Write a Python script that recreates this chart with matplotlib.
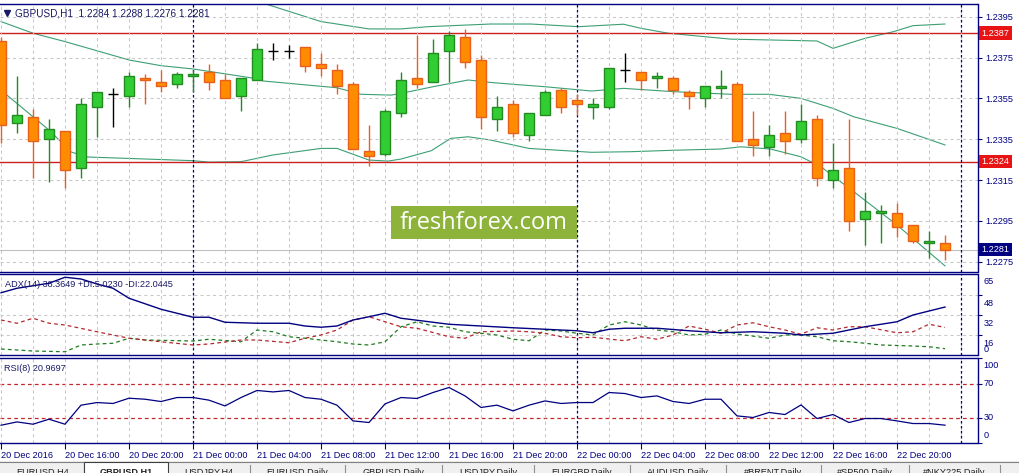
import matplotlib
matplotlib.use("Agg")
import numpy as np
import matplotlib.pyplot as plt
from matplotlib.patches import Rectangle
from matplotlib.transforms import blended_transform_factory, offset_copy

plt.rcParams['font.family'] = ['Liberation Sans', 'DejaVu Sans']

# ---- data (GBPUSD, H1, bar 0 = 20 Dec 2016 12:00) ----
opens = [1.2383, 1.2343, 1.2346, 1.2335, 1.2339, 1.2321, 1.2351, 1.2357, 1.2356, 1.2365,
         1.2363, 1.2362, 1.2366, 1.2368, 1.2364, 1.2356, 1.2364, 1.2378, 1.2378, 1.2380,
         1.2372, 1.2369, 1.2362, 1.2329, 1.2328, 1.2348, 1.2365, 1.2363, 1.2378, 1.2385,
         1.2374, 1.2345, 1.2352, 1.2337, 1.2347, 1.2359, 1.2354, 1.2351, 1.2351, 1.2369,
         1.2368, 1.2365, 1.2365, 1.2358, 1.2355, 1.2360, 1.2362, 1.2335, 1.2331, 1.2338,
         1.2335, 1.2345, 1.2315, 1.2321, 1.2296, 1.2299, 1.2299, 1.2293, 1.2284, 1.2284]
highs = [1.2385, 1.2366, 1.2350, 1.2345, 1.2339, 1.2355, 1.2358, 1.2360, 1.2368, 1.2367,
         1.2369, 1.2368, 1.2369, 1.2372, 1.2367, 1.2365, 1.2382, 1.2382, 1.2381, 1.2380,
         1.2377, 1.2372, 1.2363, 1.2342, 1.2350, 1.2368, 1.2386, 1.2384, 1.2388, 1.2389,
         1.2376, 1.2356, 1.2354, 1.2348, 1.2359, 1.2360, 1.2357, 1.2355, 1.2370, 1.2377,
         1.2368, 1.2368, 1.2366, 1.2359, 1.2361, 1.2369, 1.2363, 1.2349, 1.2342, 1.2349,
         1.2352, 1.2347, 1.2333, 1.2345, 1.2309, 1.2303, 1.2304, 1.2293, 1.2290, 1.2288]
lows = [1.2333, 1.2338, 1.2316, 1.2314, 1.2311, 1.2316, 1.2336, 1.2341, 1.2351, 1.2352,
        1.2358, 1.2360, 1.2358, 1.2359, 1.2355, 1.2349, 1.2364, 1.2374, 1.2375, 1.2368,
        1.2366, 1.2357, 1.2330, 1.2322, 1.2327, 1.2346, 1.2360, 1.2363, 1.2363, 1.2370,
        1.2340, 1.2339, 1.2336, 1.2334, 1.2347, 1.2348, 1.2347, 1.2345, 1.2350, 1.2363,
        1.2359, 1.2360, 1.2357, 1.2350, 1.2351, 1.2355, 1.2334, 1.2327, 1.2327, 1.2328,
        1.2333, 1.2312, 1.2311, 1.2290, 1.2283, 1.2284, 1.2287, 1.2284, 1.2277, 1.2276]
closes = [1.2342, 1.2347, 1.2334, 1.2340, 1.2320, 1.2352, 1.2358, 1.2357, 1.2366, 1.2364,
          1.2361, 1.2367, 1.2367, 1.2363, 1.2355, 1.2365, 1.2379, 1.2378, 1.2378, 1.2371,
          1.2370, 1.2361, 1.2330, 1.2327, 1.2349, 1.2364, 1.2362, 1.2377, 1.2386, 1.2373,
          1.2346, 1.2351, 1.2338, 1.2348, 1.2358, 1.2351, 1.2352, 1.2352, 1.2370, 1.2369,
          1.2364, 1.2366, 1.2359, 1.2356, 1.2361, 1.2361, 1.2334, 1.2332, 1.2337, 1.2334,
          1.2344, 1.2316, 1.2320, 1.2295, 1.2300, 1.2300, 1.2292, 1.2285, 1.2285, 1.2281]

# Bollinger bands (bar position, price)
bb_up_x = [13, 16.75, 20, 23, 25, 26.7, 30.6, 33.1, 36.1, 38.9, 40, 41.7, 45.6, 51, 52, 54, 55.8, 57, 59]
bb_up_y = [1.2410, 1.24007, 1.23926, 1.2389, 1.2389, 1.23901, 1.23914, 1.23914, 1.23901, 1.23913,
           1.23893, 1.23869, 1.2384, 1.23831, 1.23795, 1.23844, 1.23877, 1.23906, 1.23914]
bb_mid_x = [0, 2, 4, 8, 10, 12, 15.6, 16.4, 21, 22.5, 24.4, 25.4, 27, 29.2, 30.6, 32, 34, 36.9,
            38.9, 42, 45.6, 48, 50, 52, 53.3, 56, 59]
bb_mid_y = [1.23926, 1.23869, 1.23828, 1.23738, 1.2371, 1.23694, 1.23651, 1.23635, 1.23602, 1.2357,
            1.23566, 1.23581, 1.23607, 1.2364, 1.23628, 1.23619, 1.23607, 1.23586, 1.23599, 1.23583,
            1.2357, 1.2357, 1.2355, 1.23501, 1.2346, 1.23403, 1.23322]
bb_lo_x = [0, 3, 4.4, 5.4, 12, 13, 15, 17, 20, 21, 23, 24.2, 25, 26.9, 28.1, 29.2, 30.6, 32, 33,
           36.9, 39.4, 42, 45, 46.25, 48.1, 50, 51.25, 53.3, 56, 59]
bb_lo_y = [1.2359, 1.23395, 1.23287, 1.23263, 1.23245, 1.23238, 1.2324, 1.23273, 1.23305, 1.23305,
           1.23248, 1.23243, 1.23253, 1.23294, 1.23354, 1.23362, 1.23346, 1.23322, 1.23305, 1.23286,
           1.23289, 1.23296, 1.23302, 1.23313, 1.23302, 1.23264, 1.23215, 1.23093, 1.2293, 1.2273]

resistance = 1.2387
support = 1.2324
price_ticks = [1.2395, 1.2375, 1.2355, 1.2335, 1.2315, 1.2295, 1.2275]

# ADX(14) main line, +DI, -DI
adx_x = [0, 1, 3, 4, 5, 6, 7, 8, 10, 12, 13, 14, 16, 18, 19, 20, 21, 22, 23, 24, 25, 28, 30, 32,
         34, 36, 37, 38, 39, 41, 43, 45, 47, 49, 50, 52, 54, 56, 57, 59]
adx_y = [49.8, 53.4, 57.4, 62.2, 60.8, 56.8, 53.4, 45.4, 36.6, 30.2, 30.2, 26.2, 25.4, 25.4, 23.2,
         22.2, 23.2, 28.0, 30.6, 33.4, 29.4, 24.6, 23.2, 21.8, 20.6, 19.4, 17.8, 20.6, 21.4, 21.4,
         19.4, 17.8, 18.6, 17.4, 16.0, 17.4, 22.6, 26.6, 32.0, 38.3649]
pdi_x = [0, 1, 2, 4, 5, 6, 7, 8, 9, 12, 13, 15, 16, 17, 18, 19, 21, 22, 23, 24, 25, 26, 27, 28,
         29, 30, 31, 32, 33, 34, 35, 36, 37, 38, 39, 40, 41, 42, 43, 44, 45, 46, 48, 49, 50, 51,
         52, 53, 54, 55, 57, 58, 59]
pdi_y = [4.8, 4.0, 3.2, 2.6, 8.0, 8.8, 9.4, 13.4, 12.0, 11.2, 12.6, 10.6, 20.0, 18.6, 14.6, 13.4,
         10.6, 8.8, 8.0, 10.6, 22.6, 26.6, 23.2, 22.2, 18.6, 17.4, 16.0, 12.6, 11.4, 20.0, 19.2,
         17.4, 16.0, 24.0, 26.6, 24.0, 20.0, 18.6, 16.0, 16.6, 20.0, 16.8, 13.4, 16.0, 16.0, 14.6,
         11.4, 10.6, 9.4, 8.0, 7.2, 6.6, 5.0230]
mdi_x = [0, 1, 2, 3, 4, 6, 8, 10, 12, 13, 15, 16, 18, 19, 20, 21, 22, 23, 24, 25, 26, 28, 29, 30,
         32, 33, 34, 35, 36, 37, 39, 40, 41, 42, 43, 44, 45, 46, 47, 48, 49, 50, 51, 52, 53, 54,
         56, 57, 58, 59]
mdi_y = [28.0, 25.4, 29.4, 25.4, 24.0, 18.6, 13.4, 10.6, 8.0, 8.8, 12.0, 12.0, 9.8, 13.4, 16.0,
         20.0, 28.0, 30.6, 26.6, 22.6, 21.4, 14.6, 13.4, 18.6, 19.2, 18.6, 17.4, 14.6, 13.8, 14.2,
         11.4, 14.6, 12.6, 16.0, 23.2, 20.6, 17.4, 24.0, 25.8, 22.6, 20.0, 16.6, 21.8, 20.0, 22.6,
         22.6, 17.8, 18.6, 24.6, 22.0445]

# RSI(8), one value per bar
rsi = [20.9, 24.8, 22.1, 28.0, 22.1, 44.5, 47.6, 46.5, 52.7, 51.5, 48.8, 53.5, 53.5, 50.4, 43.6,
       53.5, 61.8, 60.1, 61.8, 53.5, 51.5, 44.5, 26.0, 24.1, 46.0, 53.5, 52.4, 59.4, 65.3, 55.4,
       41.8, 44.5, 37.8, 44.5, 49.5, 46.5, 47.6, 47.6, 59.4, 58.2, 53.5, 55.4, 48.8, 46.5, 51.5,
       51.5, 31.9, 30.0, 35.9, 33.5, 44.8, 28.8, 33.5, 24.1, 28.8, 28.8, 26.0, 22.9, 22.9, 20.9697]
rsi_levels = [70, 30]

time_labels = ['20 Dec 2016', '20 Dec 16:00', '20 Dec 20:00', '21 Dec 00:00', '21 Dec 04:00',
               '21 Dec 08:00', '21 Dec 12:00', '21 Dec 16:00', '21 Dec 20:00', '22 Dec 00:00',
               '22 Dec 04:00', '22 Dec 08:00', '22 Dec 12:00', '22 Dec 16:00', '22 Dec 20:00']
day_starts = [12, 36, 60]
tabs = ['EURUSD,H4', 'GBPUSD,H1', 'USDJPY,H4', 'EURUSD,Daily', 'GBPUSD,Daily', 'USDJPY,Daily',
        'EURGBP,Daily', 'AUDUSD,Daily', '#BRENT,Daily', '#SP500,Daily', '#NKY225,Daily']

# ---- styling ----
NAVY = '#000080'
TXT = '#1a1a66'
GRID = '#c8c8c8'
BULL_FILL, BULL_EDGE = '#32cd32', '#228b22'
BEAR_FILL, BEAR_EDGE = '#ff8c00', '#e8601c'
BAND = '#3c9f74'
LINE_RED = '#cc1f1f'
BOX_RED = '#e81414'
FS = 6.6

W, H = 1019, 473
fig = plt.figure(figsize=(W / 100, H / 100), dpi=100)
fig.patch.set_facecolor('white')


def px_axes(left, top, right, bottom):
    return fig.add_axes([left / W, 1 - bottom / H, (right - left) / W, (bottom - top) / H])


ax = px_axes(0, 4, 977.5, 272)
ax_adx = px_axes(0, 274, 977.5, 355)
ax_rsi = px_axes(0, 358, 977.5, 443)

xlo, xhi = -1 / 16, 976.5 / 16
for a in (ax, ax_adx, ax_rsi):
    a.set_xlim(xlo, xhi)
    a.set_facecolor('white')
    for side in ('top', 'bottom', 'right'):
        a.spines[side].set_color(NAVY)
        a.spines[side].set_linewidth(1.0)
    a.spines['left'].set_visible(False)
    a.yaxis.tick_right()
    a.tick_params(axis='y', direction='out', length=3, width=0.8, color=NAVY,
                  labelcolor=NAVY, labelsize=FS, pad=3)
    a.set_xticks(np.arange(0, 61, 2), minor=True)
    a.tick_params(axis='x', which='both', length=0)
    a.grid(True, axis='x', which='both', color=GRID, linestyle=(0, (3, 3)), linewidth=0.75, zorder=0)
    for d in day_starts:
        a.axvline(d, color=NAVY, linestyle=(0, (2, 2)), linewidth=0.9, zorder=2)

# ---- main price panel ----
ax.set_ylim(1.22700, 1.24012)
ax.set_yticks(price_ticks)
ax.set_yticklabels(['%.4f' % p for p in price_ticks])
ax.grid(True, axis='y', color=GRID, linestyle=(0, (3, 3)), linewidth=0.75, zorder=0)
ax.set_xticks([])
ax.set_xticks(np.arange(0, 61, 2), minor=True)

ax.plot(bb_up_x, bb_up_y, color=BAND, lw=0.8, zorder=1)
ax.plot(bb_mid_x, bb_mid_y, color=BAND, lw=0.8, zorder=1)
ax.plot(bb_lo_x, bb_lo_y, color=BAND, lw=0.8, zorder=1)

ax.axhline(closes[-1], color='#c0c0c0', lw=0.8, zorder=1)
ax.axhline(resistance, color=LINE_RED, lw=1.0, zorder=1.5)
ax.axhline(support, color=LINE_RED, lw=1.0, zorder=1.5)

o, hi, lo, c = map(np.array, (opens, highs, lows, closes))
bars = np.arange(len(o))
up, dn, dj = c > o, c < o, c == o
ax.vlines(bars[up], lo[up], hi[up], color=BULL_EDGE, lw=1.0, zorder=3)
ax.bar(bars[up], (c - o)[up], bottom=o[up], width=0.62, color=BULL_FILL,
       edgecolor=BULL_EDGE, linewidth=1.0, zorder=4)
ax.vlines(bars[dn], lo[dn], hi[dn], color=BEAR_EDGE, lw=1.0, zorder=3)
ax.bar(bars[dn], (o - c)[dn], bottom=c[dn], width=0.62, color=BEAR_FILL,
       edgecolor=BEAR_EDGE, linewidth=1.0, zorder=4)
ax.vlines(bars[dj], lo[dj], hi[dj], color='black', lw=1.0, zorder=3)
ax.hlines(o[dj], bars[dj] - 0.33, bars[dj] + 0.33, color='black', lw=1.0, zorder=3)

bt = blended_transform_factory(ax.transAxes, ax.transData)
for val, bg in ((resistance, BOX_RED), (support, BOX_RED), (closes[-1], NAVY)):
    ax.text(1.0, val, '%.4f' % val, transform=offset_copy(bt, fig=fig, x=4, units='dots'),
            ha='left', va='center', color='white', fontsize=FS, clip_on=False, zorder=6,
            bbox=dict(boxstyle='square,pad=0.25', fc=bg, ec='none'))

ax.text(0.0155, 0.965, 'GBPUSD,H1  %.4f %.4f %.4f %.4f' % (opens[-1], highs[-1], lows[-1], closes[-1]),
        transform=ax.transAxes, ha='left', va='center', color=TXT, fontsize=7.2, zorder=7)
ax.plot([0.0075], [0.967], marker='v', ms=4, color=TXT, transform=ax.transAxes, clip_on=False, zorder=7)

# ---- ADX panel ----
ax_adx.set_ylim(0, 64.8)
ax_adx.set_xticks([])
ax_adx.set_xticks(np.arange(0, 61, 2), minor=True)
ax_adx.set_yticks([16, 32, 48])
ax_adx.set_yticklabels([])
ax_adx.grid(True, axis='y', color=GRID, linestyle=(0, (3, 3)), linewidth=0.75, zorder=0)
ax_adx.plot(adx_x, adx_y, color=NAVY, lw=1.0, zorder=3)
ax_adx.plot(pdi_x, pdi_y, color='#1e7b1e', lw=0.9, linestyle=(0, (3, 2.5)), zorder=2)
ax_adx.plot(mdi_x, mdi_y, color='#b3282d', lw=0.9, linestyle=(0, (3, 2.5)), zorder=2)
abt = offset_copy(blended_transform_factory(ax_adx.transAxes, ax_adx.transData), fig=fig, x=6, units='dots')
for val, lab in ((16, '16'), (32, '32'), (48, '48')):
    ax_adx.text(1.0, val, lab, transform=offset_copy(abt, fig=fig, y=-8, units='dots'),
                ha='left', va='center', color=NAVY, fontsize=FS, clip_on=False)
ax_adx.text(1.0, 64.8, '65', transform=offset_copy(abt, fig=fig, y=-8, units='dots'),
            ha='left', va='center', color=NAVY, fontsize=FS, clip_on=False)
ax_adx.text(1.0, 0, '0', transform=offset_copy(abt, fig=fig, y=6, units='dots'),
            ha='left', va='center', color=NAVY, fontsize=FS, clip_on=False)
ax_adx.text(0.005, 0.87, 'ADX(14) %.4f +DI:%.4f -DI:%.4f' % (adx_y[-1], pdi_y[-1], mdi_y[-1]),
            transform=ax_adx.transAxes, ha='left', va='center', color=TXT, fontsize=FS, zorder=7)

# ---- RSI panel ----
ax_rsi.set_ylim(0, 100)
ax_rsi.set_yticks([100, 70, 30, 0])
ax_rsi.set_yticklabels([])
rbt = offset_copy(blended_transform_factory(ax_rsi.transAxes, ax_rsi.transData), fig=fig, x=6, units='dots')
for val, dy in ((100, -7), (70, 0), (30, 0), (0, 7)):
    ax_rsi.text(1.0, val, str(val), transform=offset_copy(rbt, fig=fig, y=dy, units='dots'),
                ha='left', va='center', color=NAVY, fontsize=FS, clip_on=False)
for lv in rsi_levels:
    ax_rsi.axhline(lv, color='#c0282d', lw=0.9, linestyle=(0, (3, 2.5)), zorder=1)
ax_rsi.plot(bars, rsi, color=NAVY, lw=0.9, zorder=3)
ax_rsi.text(0.004, 0.88, 'RSI(8) %.4f' % rsi[-1], transform=ax_rsi.transAxes,
            ha='left', va='center', color=TXT, fontsize=FS, zorder=7)

ax_rsi.set_xticks(np.arange(0, 60, 4))
ax_rsi.set_xticklabels(time_labels)
ax_rsi.tick_params(axis='x', which='major', length=4, width=0.8, color=NAVY, direction='out',
                   labelsize=FS, labelcolor=NAVY, pad=2)
for lbl in ax_rsi.get_xticklabels():
    lbl.set_ha('left')

# ---- overlay: watermark and terminal tabs ----
ov = fig.add_axes([0, 0, 1, 1])
ov.set_xlim(0, W)
ov.set_ylim(H, 0)
ov.axis('off')
ov.patch.set_alpha(0)
ov.add_patch(Rectangle((391, 206), 185.7, 33.3, facecolor='#8db33a', edgecolor='none', zorder=5))
ov.text(483.5, 222.5, 'freshforex.com', family=['Open Sans', 'DejaVu Sans'], fontsize=17,
        color='white', ha='center', va='center', zorder=6)

ov.add_patch(Rectangle((0, 461), W, 12, facecolor='#f0f0f0', edgecolor='none', zorder=1))
ov.plot([0, W], [461.5, 461.5], color='#808080', lw=0.8, zorder=2)
tab_edges = [2, 84, 168, 250, 345, 442, 534, 630, 726, 821, 909, 1000]
for i, name in enumerate(tabs):
    x0, x1 = tab_edges[i], tab_edges[i + 1]
    if name == 'GBPUSD,H1':
        ov.add_patch(Rectangle((x0, 462), x1 - x0, 12, facecolor='white', edgecolor='#404040',
                               lw=0.8, zorder=3))
    else:
        ov.plot([x1, x1], [465, 473], color='#909090', lw=0.8, zorder=2)
    ov.text((x0 + x1) / 2, 467.5, name, ha='center', va='top', fontsize=6.6, color='#202020',
            fontweight='bold' if name == 'GBPUSD,H1' else 'normal', zorder=4)

fig.savefig('out.png', dpi=100, facecolor='white')
